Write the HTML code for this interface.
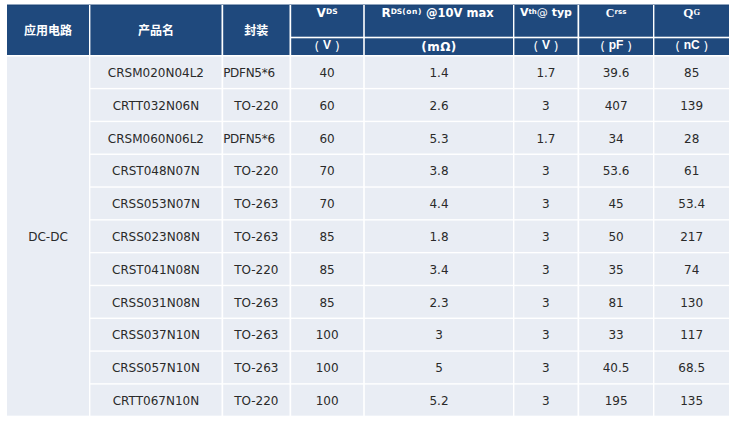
<!DOCTYPE html>
<html><head><meta charset="utf-8"><style>
html,body{margin:0;padding:0;background:#fff;}
body{width:736px;height:423px;position:relative;overflow:hidden;}
#t div{position:absolute;}
.d{font-family:"DejaVu Sans",sans-serif;font-size:12px;line-height:14px;color:#2a2a2a;text-align:center;white-space:nowrap;}
.hc{font-family:"Liberation Sans","Noto Sans CJK SC",sans-serif;font-weight:bold;font-size:12px;line-height:16px;color:#fff;text-align:center;white-space:nowrap;}
.h{font-family:"DejaVu Sans",sans-serif;font-weight:bold;font-size:11px;line-height:14px;color:#fff;text-align:center;white-space:nowrap;padding-top:1px;}
.h .s{font-size:7px;vertical-align:top;line-height:10px;position:relative;top:1px;}
.h .sf{font-family:"Liberation Serif",serif;font-size:12px;}
.h .sfs{font-family:"Liberation Serif",serif;}
.h .at{font-weight:normal;}
.h .big{font-size:12px;}
.h .mid{font-size:11.5px;}
.h .s2{font-size:7.5px;}
.h .q{font-size:13px;}
.h .sfs{font-size:8.5px;}
.sh{font-family:"Liberation Sans",sans-serif;font-weight:bold;font-size:12px;line-height:16px;color:#fff;text-align:center;white-space:nowrap;}
.sh .p{font-family:"DejaVu Sans",sans-serif;font-weight:normal;font-size:12px;position:relative;top:2px;}
.sh .mo{font-family:"DejaVu Sans",sans-serif;font-size:12px;position:relative;top:2px;letter-spacing:0.5px;}
</style></head><body><div id="t">
<div style="left:7px;top:4px;width:722px;height:1px;background:#1f497d;opacity:0.5;"></div>
<div style="left:7px;top:5px;width:722px;height:50px;background:#1f497d;"></div>
<div style="left:7px;top:56px;width:722px;height:360px;background:#e9edf4;"></div>
<div style="left:7px;top:5px;width:722px;height:1px;background:#173c6a;opacity:0.4;"></div>
<div style="left:7px;top:415px;width:722px;height:1px;background:#ffffff;opacity:0.35;"></div>
<div style="left:291px;top:36px;width:438px;height:1px;background:#ffffff;opacity:0.3;"></div>
<div style="left:291px;top:37px;width:438px;height:1px;background:#ffffff;"></div>
<div style="left:291px;top:38px;width:438px;height:1px;background:#ffffff;opacity:0.3;"></div>
<div style="left:7px;top:55px;width:722px;height:1px;background:#ffffff;"></div>
<div style="left:7px;top:56px;width:722px;height:1px;background:#ffffff;opacity:0.6;"></div>
<div style="left:90px;top:87px;width:639px;height:1px;background:#ffffff;opacity:0.1;"></div>
<div style="left:90px;top:88px;width:639px;height:1px;background:#ffffff;"></div>
<div style="left:90px;top:89px;width:639px;height:1px;background:#ffffff;opacity:0.3;"></div>
<div style="left:90px;top:120px;width:639px;height:1px;background:#ffffff;opacity:0.29;"></div>
<div style="left:90px;top:121px;width:639px;height:1px;background:#ffffff;"></div>
<div style="left:90px;top:122px;width:639px;height:1px;background:#ffffff;opacity:0.11;"></div>
<div style="left:90px;top:153px;width:639px;height:1px;background:#ffffff;opacity:0.48;"></div>
<div style="left:90px;top:154px;width:639px;height:1px;background:#ffffff;opacity:0.92;"></div>
<div style="left:90px;top:186px;width:639px;height:1px;background:#ffffff;opacity:0.67;"></div>
<div style="left:90px;top:187px;width:639px;height:1px;background:#ffffff;opacity:0.73;"></div>
<div style="left:90px;top:219px;width:639px;height:1px;background:#ffffff;opacity:0.86;"></div>
<div style="left:90px;top:220px;width:639px;height:1px;background:#ffffff;opacity:0.54;"></div>
<div style="left:90px;top:251px;width:639px;height:1px;background:#ffffff;opacity:0.05;"></div>
<div style="left:90px;top:252px;width:639px;height:1px;background:#ffffff;"></div>
<div style="left:90px;top:253px;width:639px;height:1px;background:#ffffff;opacity:0.35;"></div>
<div style="left:90px;top:284px;width:639px;height:1px;background:#ffffff;opacity:0.24;"></div>
<div style="left:90px;top:285px;width:639px;height:1px;background:#ffffff;"></div>
<div style="left:90px;top:286px;width:639px;height:1px;background:#ffffff;opacity:0.16;"></div>
<div style="left:90px;top:317px;width:639px;height:1px;background:#ffffff;opacity:0.43;"></div>
<div style="left:90px;top:318px;width:639px;height:1px;background:#ffffff;opacity:0.97;"></div>
<div style="left:90px;top:350px;width:639px;height:1px;background:#ffffff;opacity:0.62;"></div>
<div style="left:90px;top:351px;width:639px;height:1px;background:#ffffff;opacity:0.78;"></div>
<div style="left:90px;top:383px;width:639px;height:1px;background:#ffffff;opacity:0.81;"></div>
<div style="left:90px;top:384px;width:639px;height:1px;background:#ffffff;opacity:0.59;"></div>
<div style="left:89px;top:5px;width:1px;height:411px;background:#ffffff;"></div>
<div style="left:90px;top:5px;width:1px;height:411px;background:#ffffff;opacity:0.4;"></div>
<div style="left:221px;top:5px;width:1px;height:411px;background:#ffffff;opacity:0.5;"></div>
<div style="left:222px;top:5px;width:1px;height:411px;background:#ffffff;"></div>
<div style="left:223px;top:5px;width:1px;height:411px;background:#ffffff;opacity:0.2;"></div>
<div style="left:289px;top:5px;width:1px;height:411px;background:#ffffff;opacity:0.5;"></div>
<div style="left:290px;top:5px;width:1px;height:411px;background:#ffffff;"></div>
<div style="left:291px;top:5px;width:1px;height:411px;background:#ffffff;opacity:0.2;"></div>
<div style="left:363px;top:5px;width:1px;height:411px;background:#ffffff;opacity:0.8;"></div>
<div style="left:364px;top:5px;width:1px;height:411px;background:#ffffff;opacity:0.8;"></div>
<div style="left:513px;top:5px;width:1px;height:411px;background:#ffffff;"></div>
<div style="left:514px;top:5px;width:1px;height:411px;background:#ffffff;opacity:0.4;"></div>
<div style="left:577px;top:5px;width:1px;height:411px;background:#ffffff;opacity:0.5;"></div>
<div style="left:578px;top:5px;width:1px;height:411px;background:#ffffff;"></div>
<div style="left:579px;top:5px;width:1px;height:411px;background:#ffffff;opacity:0.2;"></div>
<div style="left:653px;top:5px;width:1px;height:411px;background:#ffffff;"></div>
<div style="left:654px;top:5px;width:1px;height:411px;background:#ffffff;opacity:0.4;"></div>
<div class="d" style="left:90.4px;top:65.8px;width:131.1px;">CRSM020N04L2</div>
<div class="d" style="left:223.2px;top:65.8px;text-align:left;letter-spacing:-0.3px;">PDFN5*6</div>
<div class="d" style="left:291.2px;top:65.8px;width:71.80000000000001px;">40</div>
<div class="d" style="left:365px;top:65.8px;width:148px;">1.4</div>
<div class="d" style="left:514.4px;top:65.8px;width:63.10000000000002px;">1.7</div>
<div class="d" style="left:579.2px;top:65.8px;width:73.79999999999995px;">39.6</div>
<div class="d" style="left:654.4px;top:65.8px;width:74.60000000000002px;">85</div>
<div class="d" style="left:90.4px;top:98.7px;width:131.1px;">CRTT032N06N</div>
<div class="d" style="left:223.2px;top:98.7px;width:66.30000000000001px;">TO-220</div>
<div class="d" style="left:291.2px;top:98.7px;width:71.80000000000001px;">60</div>
<div class="d" style="left:365px;top:98.7px;width:148px;">2.6</div>
<div class="d" style="left:514.4px;top:98.7px;width:63.10000000000002px;">3</div>
<div class="d" style="left:579.2px;top:98.7px;width:73.79999999999995px;">407</div>
<div class="d" style="left:654.4px;top:98.7px;width:74.60000000000002px;">139</div>
<div class="d" style="left:90.4px;top:131.51px;width:131.1px;">CRSM060N06L2</div>
<div class="d" style="left:223.2px;top:131.51px;text-align:left;letter-spacing:-0.3px;">PDFN5*6</div>
<div class="d" style="left:291.2px;top:131.51px;width:71.80000000000001px;">60</div>
<div class="d" style="left:365px;top:131.51px;width:148px;">5.3</div>
<div class="d" style="left:514.4px;top:131.51px;width:63.10000000000002px;">1.7</div>
<div class="d" style="left:579.2px;top:131.51px;width:73.79999999999995px;">34</div>
<div class="d" style="left:654.4px;top:131.51px;width:74.60000000000002px;">28</div>
<div class="d" style="left:90.4px;top:164.32px;width:131.1px;">CRST048N07N</div>
<div class="d" style="left:223.2px;top:164.32px;width:66.30000000000001px;">TO-220</div>
<div class="d" style="left:291.2px;top:164.32px;width:71.80000000000001px;">70</div>
<div class="d" style="left:365px;top:164.32px;width:148px;">3.8</div>
<div class="d" style="left:514.4px;top:164.32px;width:63.10000000000002px;">3</div>
<div class="d" style="left:579.2px;top:164.32px;width:73.79999999999995px;">53.6</div>
<div class="d" style="left:654.4px;top:164.32px;width:74.60000000000002px;">61</div>
<div class="d" style="left:90.4px;top:197.13px;width:131.1px;">CRSS053N07N</div>
<div class="d" style="left:223.2px;top:197.13px;width:66.30000000000001px;">TO-263</div>
<div class="d" style="left:291.2px;top:197.13px;width:71.80000000000001px;">70</div>
<div class="d" style="left:365px;top:197.13px;width:148px;">4.4</div>
<div class="d" style="left:514.4px;top:197.13px;width:63.10000000000002px;">3</div>
<div class="d" style="left:579.2px;top:197.13px;width:73.79999999999995px;">45</div>
<div class="d" style="left:654.4px;top:197.13px;width:74.60000000000002px;">53.4</div>
<div class="d" style="left:90.4px;top:229.94px;width:131.1px;">CRSS023N08N</div>
<div class="d" style="left:223.2px;top:229.94px;width:66.30000000000001px;">TO-263</div>
<div class="d" style="left:291.2px;top:229.94px;width:71.80000000000001px;">85</div>
<div class="d" style="left:365px;top:229.94px;width:148px;">1.8</div>
<div class="d" style="left:514.4px;top:229.94px;width:63.10000000000002px;">3</div>
<div class="d" style="left:579.2px;top:229.94px;width:73.79999999999995px;">50</div>
<div class="d" style="left:654.4px;top:229.94px;width:74.60000000000002px;">217</div>
<div class="d" style="left:90.4px;top:262.75px;width:131.1px;">CRST041N08N</div>
<div class="d" style="left:223.2px;top:262.75px;width:66.30000000000001px;">TO-220</div>
<div class="d" style="left:291.2px;top:262.75px;width:71.80000000000001px;">85</div>
<div class="d" style="left:365px;top:262.75px;width:148px;">3.4</div>
<div class="d" style="left:514.4px;top:262.75px;width:63.10000000000002px;">3</div>
<div class="d" style="left:579.2px;top:262.75px;width:73.79999999999995px;">35</div>
<div class="d" style="left:654.4px;top:262.75px;width:74.60000000000002px;">74</div>
<div class="d" style="left:90.4px;top:295.56px;width:131.1px;">CRSS031N08N</div>
<div class="d" style="left:223.2px;top:295.56px;width:66.30000000000001px;">TO-263</div>
<div class="d" style="left:291.2px;top:295.56px;width:71.80000000000001px;">85</div>
<div class="d" style="left:365px;top:295.56px;width:148px;">2.3</div>
<div class="d" style="left:514.4px;top:295.56px;width:63.10000000000002px;">3</div>
<div class="d" style="left:579.2px;top:295.56px;width:73.79999999999995px;">81</div>
<div class="d" style="left:654.4px;top:295.56px;width:74.60000000000002px;">130</div>
<div class="d" style="left:90.4px;top:328.38px;width:131.1px;">CRSS037N10N</div>
<div class="d" style="left:223.2px;top:328.38px;width:66.30000000000001px;">TO-263</div>
<div class="d" style="left:291.2px;top:328.38px;width:71.80000000000001px;">100</div>
<div class="d" style="left:365px;top:328.38px;width:148px;">3</div>
<div class="d" style="left:514.4px;top:328.38px;width:63.10000000000002px;">3</div>
<div class="d" style="left:579.2px;top:328.38px;width:73.79999999999995px;">33</div>
<div class="d" style="left:654.4px;top:328.38px;width:74.60000000000002px;">117</div>
<div class="d" style="left:90.4px;top:361.19px;width:131.1px;">CRSS057N10N</div>
<div class="d" style="left:223.2px;top:361.19px;width:66.30000000000001px;">TO-263</div>
<div class="d" style="left:291.2px;top:361.19px;width:71.80000000000001px;">100</div>
<div class="d" style="left:365px;top:361.19px;width:148px;">5</div>
<div class="d" style="left:514.4px;top:361.19px;width:63.10000000000002px;">3</div>
<div class="d" style="left:579.2px;top:361.19px;width:73.79999999999995px;">40.5</div>
<div class="d" style="left:654.4px;top:361.19px;width:74.60000000000002px;">68.5</div>
<div class="d" style="left:90.4px;top:393.74px;width:131.1px;">CRTT067N10N</div>
<div class="d" style="left:223.2px;top:393.74px;width:66.30000000000001px;">TO-220</div>
<div class="d" style="left:291.2px;top:393.74px;width:71.80000000000001px;">100</div>
<div class="d" style="left:365px;top:393.74px;width:148px;">5.2</div>
<div class="d" style="left:514.4px;top:393.74px;width:63.10000000000002px;">3</div>
<div class="d" style="left:579.2px;top:393.74px;width:73.79999999999995px;">195</div>
<div class="d" style="left:654.4px;top:393.74px;width:74.60000000000002px;">135</div>
<div class="d" style="left:7px;top:230px;width:82px;">DC-DC</div>
<div class="hc" style="left:7px;top:22.6px;width:82px;">应用电路</div>
<div class="hc" style="left:90.4px;top:22.6px;width:131.1px;">产品名</div>
<div class="hc" style="left:223.2px;top:22.6px;width:66.30000000000001px;">封装</div>
<div class="h" style="left:291.2px;top:5px;width:71.80000000000001px;"><span class="big">V</span><span class="s s2">DS</span></div>
<div class="h" style="left:363.5px;top:5px;width:148.0px;"><span class="big">R</span><span class="s s2">DS<span style="letter-spacing:0.6px">(on)</span></span><span class="mid"> @10V max</span></div>
<div class="h" style="left:514.4px;top:5px;width:63.10000000000002px;">V<span class="s">th</span><span class="at">@</span> typ</div>
<div class="h" style="left:579.2px;top:5px;width:73.79999999999995px;"><span class="sf">C</span><span class="s">rss</span></div>
<div class="h" style="left:654.4px;top:5px;width:74.60000000000002px;"><span class="sf q">Q</span><span class="s sfs">G</span></div>
<div class="sh" style="left:291.2px;top:37px;width:71.80000000000001px;"><span class="p">( </span>V<span class="p"> )</span></div>
<div class="sh" style="left:365px;top:37px;width:148px;"><span class="mo">(mΩ)</span></div>
<div class="sh" style="left:514.4px;top:37px;width:63.10000000000002px;"><span class="p">( </span>V<span class="p"> )</span></div>
<div class="sh" style="left:579.2px;top:37px;width:73.79999999999995px;"><span class="p">( </span>pF<span class="p"> )</span></div>
<div class="sh" style="left:654.4px;top:37px;width:74.60000000000002px;"><span class="p">( </span>nC<span class="p"> )</span></div>
</div></body></html>
